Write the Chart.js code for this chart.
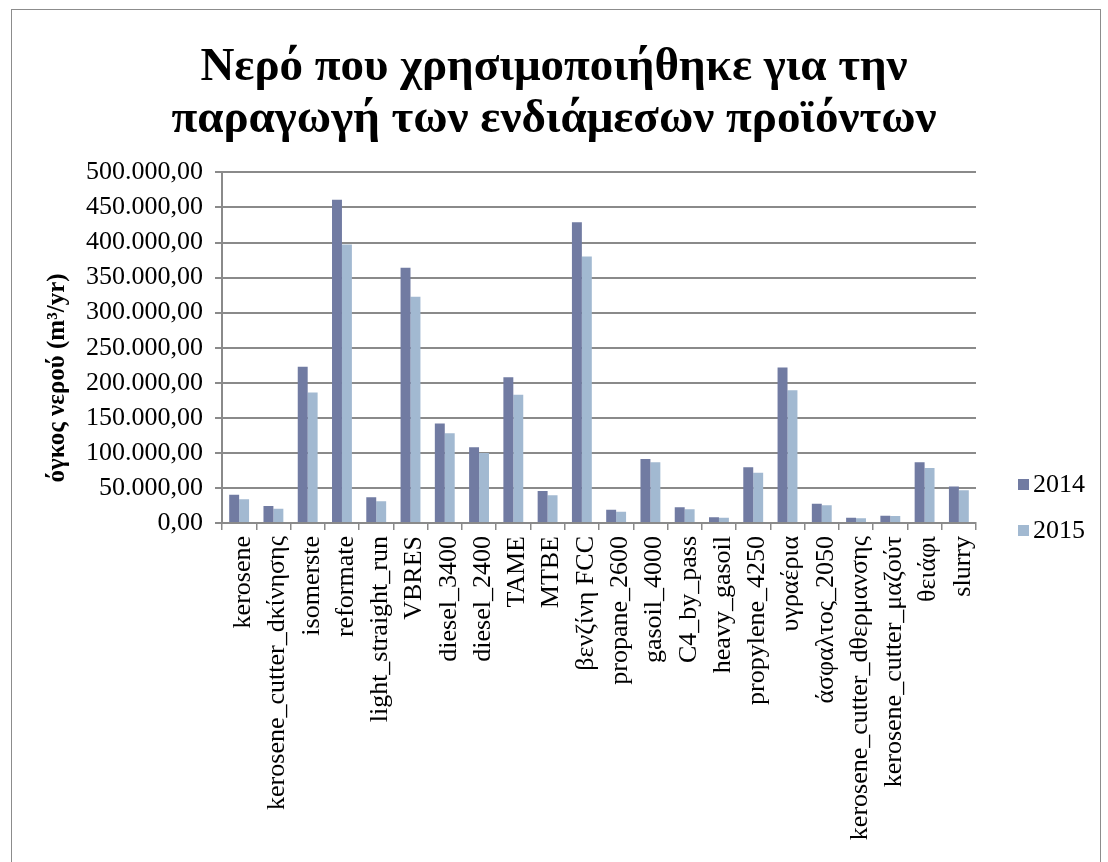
<!DOCTYPE html>
<html>
<head>
<meta charset="utf-8">
<script src="https://cdn.jsdelivr.net/npm/chart.js@4.4.1/dist/chart.umd.min.js"></script>
<style>
  html, body { margin: 0; padding: 0; background: #fff; overflow: hidden; }
  #wrap { position: relative; width: 1108px; height: 862px; }
  #frame { position: absolute; left: 11px; top: 9px; width: 1090px; height: 900px; border: 1px solid #8c8c8c; box-sizing: border-box; }
  #chart { position: absolute; left: 0; top: 0; }
  .leg { position: absolute; font-family: "Liberation Serif", serif; font-size: 26px; color: #000; line-height: 26px; white-space: nowrap; }
  .leg span { display: inline-block; width: 11px; height: 11px; margin-right: 4px; vertical-align: 2px; }
</style>
</head>
<body>
<div id="wrap">
  <div id="frame"></div>
  <canvas id="chart" width="1108" height="862"></canvas>
  <div class="leg" style="left:1018px; top:471px;"><span style="background:#717ba2"></span>2014</div>
  <div class="leg" style="left:1018px; top:517px;"><span style="background:#a2b9d1"></span>2015</div>
</div>
<script>
(() => {
  'use strict'

  const categories = [
    'kerosene', 'kerosene_cutter_dκίνησης', 'isomerste', 'reformate', 'light_straight_run',
    'VBRES', 'diesel_3400', 'diesel_2400', 'TAME', 'MTBE', 'βενζίνη FCC', 'propane_2600',
    'gasoil_4000', 'C4_by_pass', 'heavy_gasoil', 'propylene_4250', 'υγραέρια',
    'άσφαλτος_2050', 'kerosene_cutter_dθερμανσης', 'kerosene_cutter_μαζούτ', 'θειάφι', 'slurry'
  ];

  const values2014 = [
    40400, 24300, 223000, 461000, 36600, 364000, 142000, 108000, 208000, 45700, 429000, 19000,
    91300, 22400, 8100, 79400, 221700, 27600, 7600, 10500, 86600, 51900
  ];

  const values2015 = [
    33800, 20500, 186000, 397000, 30900, 322500, 128000, 100000, 183000, 39500, 380000, 16200,
    86600, 19500, 7600, 71800, 189300, 25200, 6700, 10000, 78500, 46600
  ];

  const seriesNames = ['2014', '2015'];
  const titleLines = ['Νερό που χρησιμοποιήθηκε για την', 'παραγωγή των ενδιάμεσων προϊόντων'];
  const yTitle = 'όγκος νερού (m³/yr)';

  const fontFamily = '"Liberation Serif", "Times New Roman", serif';
  const gridColor = '#8a8a8a';

  // Greek number style: 500.000,00
  const fmt = (v) => {
    const s = Math.round(v).toString().replace(/\B(?=(\d{3})+(?!\d))/g, '.');
    return s + ',00';
  };

  // title centred on the whole canvas, not just between the paddings
  const fullWidthTitle = {
    id: 'fullWidthTitle',
    afterLayout(chart) {
      const t = chart.titleBlock;
      if (!t) return;
      t.left = 0;
      t.right = chart.width;
      t.width = chart.width;
    }
  };

  // y axis title, placed a bit lower than the axis middle like the original
  const yAxisTitle = {
    id: 'yAxisTitle',
    afterDraw(chart) {
      const c = chart.ctx;
      c.save();
      c.translate(58, 378);
      c.rotate(-Math.PI / 2);
      c.font = 'bold 25px ' + fontFamily;
      c.fillStyle = '#000';
      c.textAlign = 'center';
      c.textBaseline = 'middle';
      c.fillText(yTitle, 0, 0);
      c.restore();
    }
  };

  const ctx = document.getElementById('chart').getContext('2d');

  new Chart(ctx, {
    type: 'bar',
    data: {
      labels: categories,
      datasets: [
        { label: seriesNames[0], data: values2014, backgroundColor: '#717ba2', borderWidth: 0 },
        { label: seriesNames[1], data: values2015, backgroundColor: '#a2b9d1', borderWidth: 0 }
      ]
    },
    plugins: [fullWidthTitle, yAxisTitle],
    options: {
      responsive: false,
      animation: false,
      datasets: { bar: { categoryPercentage: 0.58, barPercentage: 1.0 } },
      layout: { padding: { left: 20, right: 132, top: 0, bottom: 0 } },
      plugins: {
        legend: { display: false },
        tooltip: { enabled: false },
        title: {
          display: true,
          text: titleLines,
          color: '#000',
          font: { family: fontFamily, size: 47, weight: 'bold', lineHeight: 1.1 },
          padding: { top: 42, bottom: 27 }
        }
      },
      scales: {
        x: {
          grid: { display: true, drawOnChartArea: false, drawTicks: true, tickLength: 7, color: gridColor, lineWidth: 1.5 },
          border: { display: true, color: gridColor, width: 2 },
          ticks: {
            autoSkip: false, maxRotation: 90, minRotation: 90, padding: 6, labelOffset: 4,
            color: '#000', font: { family: fontFamily, size: 26 }
          },
          afterFit: (s) => { s.height = 339; }
        },
        y: {
          min: 0, max: 500000,
          grid: { color: gridColor, lineWidth: 2, tickLength: 7 },
          border: { display: true, color: gridColor, width: 2 },
          ticks: {
            stepSize: 50000, padding: 12, color: '#000',
            font: { family: fontFamily, size: 26 },
            callback: (v) => fmt(v)
          },
          afterFit: (s) => { s.width = 202; }
        }
      }
    }
  });
})()
</script>
</body>
</html>
